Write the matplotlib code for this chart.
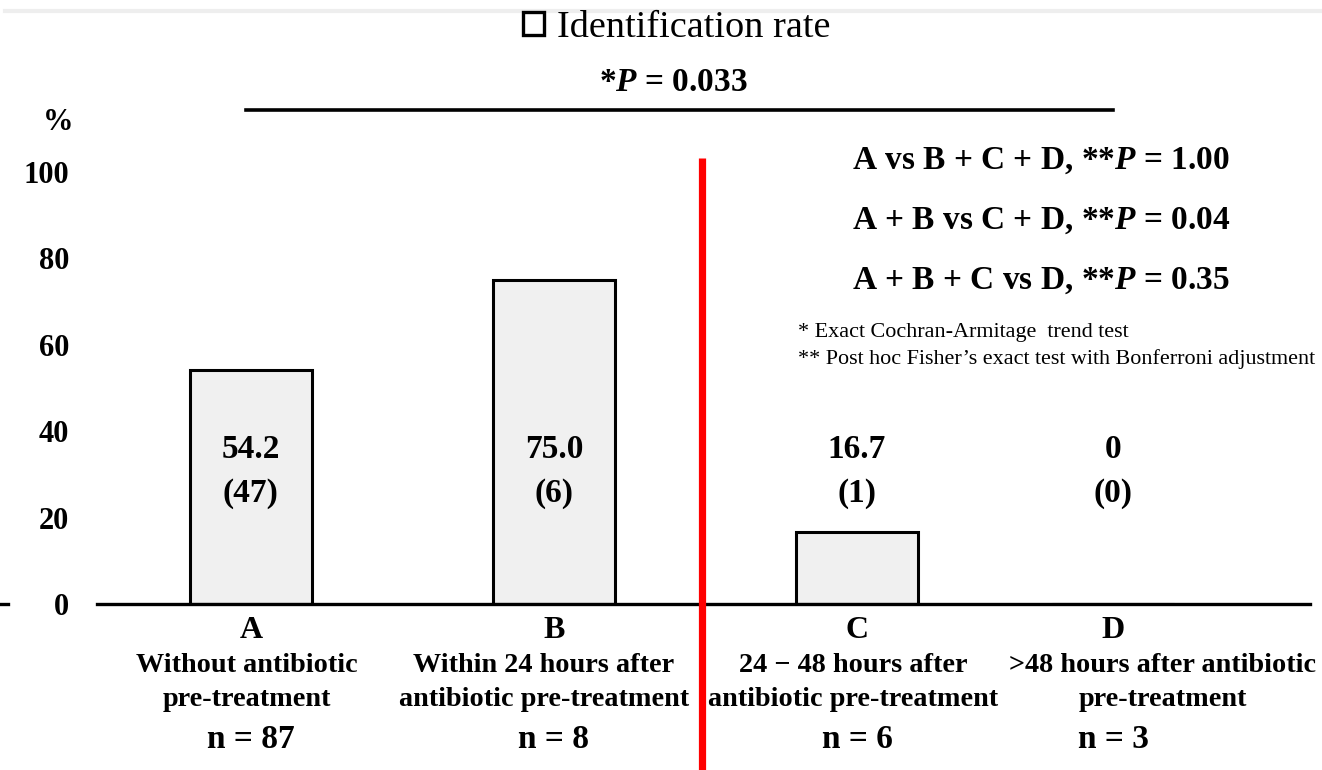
import matplotlib
matplotlib.use("Agg")
import matplotlib.pyplot as plt
from matplotlib.patches import Patch

plt.rcParams['font.family'] = ['Liberation Serif', 'DejaVu Serif']
plt.rcParams['mathtext.fontset'] = 'custom'
plt.rcParams['mathtext.rm'] = 'Liberation Serif:bold'
plt.rcParams['mathtext.it'] = 'Liberation Serif:italic:bold'
plt.rcParams['mathtext.bf'] = 'Liberation Serif:bold'

# ---- data ----
groups = ["A", "B", "C", "D"]
descriptions = [
    "Without antibiotic\npre-treatment",
    "Within 24 hours after\nantibiotic pre-treatment",
    "24 \u2212 48 hours after\nantibiotic pre-treatment",
    ">48 hours after antibiotic\npre-treatment",
]
n_values = [87, 8, 6, 3]
rates = [54.2, 75.0, 16.7, 0.0]
rate_labels = ["54.2", "75.0", "16.7", "0"]
counts = [47, 6, 1, 0]
yticks = [0, 20, 40, 60, 80, 100]
trend_p = "0.033"
posthoc = [
    ("A vs B + C + D", "1.00"),
    ("A + B vs C + D", "0.04"),
    ("A + B + C vs D", "0.35"),
]
footnotes = [
    "* Exact Cochran-Armitage  trend test",
    "** Post hoc Fisher\u2019s exact test with Bonferroni adjustment",
]
legend_label = "Identification rate"

# ---- layout (positions only) ----
xpos = [0, 1, 2, 2.845]
desc_shift = [-0.013, -0.033, -0.013, 0.165]

W, H = 1322, 770
fig = plt.figure(figsize=(W / 100, H / 100), dpi=100)
ax = fig.add_axes([97 / W, (H - 604) / H, (1310 - 97) / W, (604 - 172) / H])

ax.bar(xpos, rates, width=0.4, color="#f0f0f0", edgecolor="black", linewidth=2.2, zorder=2)

ax.set_xlim(-0.508, 3.495)
ax.set_ylim(0, 100)
for s in ["top", "right", "left"]:
    ax.spines[s].set_visible(False)
ax.spines["bottom"].set_linewidth(2.4)
ax.set_yticks(yticks)
ax.set_yticklabels([str(v) for v in yticks], fontsize=22, fontweight="bold")
ax.tick_params(axis="y", length=0, pad=20)
ax.set_xticks([])

def yfrac(px):
    return (604 - px) / 432

xt = ax.get_xaxis_transform()
for xi, g, d, n, sh in zip(xpos, groups, descriptions, n_values, desc_shift):
    ax.text(xi, yfrac(631), g, transform=xt, ha="center", va="center", fontsize=23,
            fontweight="bold", clip_on=False)
    l1, l2 = d.split("\n")
    ax.text(xi + sh, yfrac(666), l1, transform=xt, ha="center", va="center", fontsize=20.3,
            fontweight="bold", clip_on=False)
    ax.text(xi + sh, yfrac(700), l2, transform=xt, ha="center", va="center", fontsize=20.3,
            fontweight="bold", clip_on=False)
    ax.text(xi, yfrac(739), f"n = {n}", transform=xt, ha="center", va="center", fontsize=24,
            fontweight="bold", clip_on=False)

# value labels
for xi, lab, c in zip(xpos, rate_labels, counts):
    ax.text(xi, 35.8, lab, ha="center", va="center", fontsize=24, fontweight="bold", zorder=3)
    ax.text(xi, 25.6, f"({c})", ha="center", va="center", fontsize=24, fontweight="bold", zorder=3)

# percent label
fig.text(58 / W, 1 - 123 / H, "%", ha="center", va="center", fontsize=22, fontweight="bold")

# trend line and p value
ax.plot([xpos[0] - 0.016, xpos[-1]], [114.4, 114.4], color="black", linewidth=2.6, clip_on=False)
ax.text(1.394, 120.8, f"*$P$ = {trend_p}", ha="center", va="center", fontsize=24,
        fontweight="bold", clip_on=False)

# red divider
ax.plot([1.49, 1.49], [103.3, -45], color="#ff0000", linewidth=5.2, clip_on=False, zorder=10,
        solid_capstyle="butt")

# post hoc texts
for i, (comp, p) in enumerate(posthoc):
    fig.text(852 / W, 1 - (161 + 60 * i) / H, f"{comp}, **$P$ = {p}", ha="left", va="center",
             fontsize=24, fontweight="bold")
for i, fn in enumerate(footnotes):
    fig.text(798 / W, 1 - (333 + 26 * i) / H, fn, ha="left", va="center", fontsize=15.9)

# legend
handle = Patch(facecolor="white", edgecolor="black", linewidth=2.4)
fig.legend([handle], [legend_label], loc="center", bbox_to_anchor=(677 / W, 1 - 28 / H),
           frameon=False, fontsize=27.5, handlelength=0.55, handleheight=0.55, handletextpad=0.35)

# top shadow band and left stub
fig.add_artist(plt.Line2D([5 / W, 1], [1 - 11 / H, 1 - 11 / H], color="#eeeeee", linewidth=3))
fig.add_artist(plt.Line2D([0, 8 / W], [(H - 604) / H, (H - 604) / H], color="black", linewidth=2.4))

fig.savefig("out.png", dpi=100)
